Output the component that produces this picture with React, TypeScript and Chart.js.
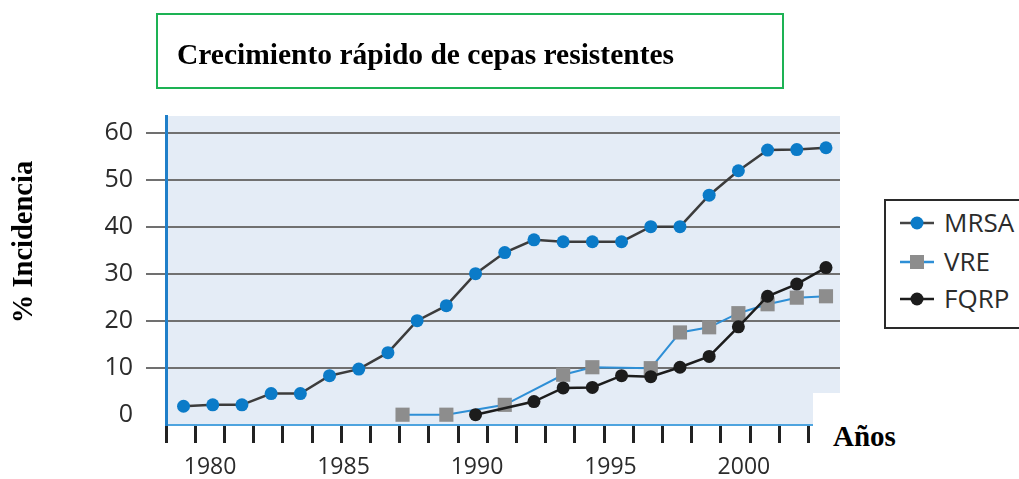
import React, { useEffect, useRef } from 'react';
import { Chart, registerables } from 'chart.js';

Chart.register(...registerables);

// ---- Data ----
const MRSA_YEARS = [1980, 1981, 1982, 1983, 1984, 1985, 1986, 1987, 1988, 1989, 1990, 1991, 1992, 1993, 1994, 1995, 1996, 1997, 1998, 1999, 2000, 2001, 2002];
const MRSA_VALUES = [1.8, 2.1, 2.1, 4.5, 4.5, 8.3, 9.7, 13.2, 20, 23.2, 30, 34.5, 37.2, 36.8, 36.8, 36.8, 40, 40, 46.7, 51.9, 56.3, 56.4, 56.8];

const VRE_YEARS = [1987.5, 1989, 1991, 1993, 1994, 1996, 1997, 1998, 1999, 2000, 2001, 2002];
const VRE_VALUES = [0, 0, 2.1, 8.5, 10.1, 9.9, 17.5, 18.6, 21.6, 23.5, 24.9, 25.2];

const FQRP_YEARS = [1990, 1992, 1993, 1994, 1995, 1996, 1997, 1998, 1999, 2000, 2001, 2002];
const FQRP_VALUES = [0, 2.8, 5.7, 5.8, 8.3, 8.1, 10.1, 12.4, 18.7, 25.2, 27.8, 31.3];

const Y_TICKS = [0, 10, 20, 30, 40, 50, 60];
const X_LABEL_YEARS = [1980, 1985, 1990, 1995, 2000];
const X_MARK_YEARS = [1979, 1980, 1981, 1982, 1983, 1984, 1985, 1986, 1987, 1988, 1989, 1990, 1991, 1992, 1993, 1994, 1995, 1996, 1997, 1998, 1999, 2000, 2001, 2002];

const TITLE = 'Crecimiento rápido de cepas resistentes';
const Y_TITLE = '% Incidencia';
const X_TITLE = 'Años';
const SERIES_NAMES = ['MRSA', 'VRE', 'FQRP'];

// ---- Styles ----
const SANS = "'Open Sans', 'Noto Sans', sans-serif";
const SERIF = "'Liberation Serif', 'Times New Roman', serif";
const MRSA_BLUE = '#0b7bc8';
const VRE_LINE = '#2e8fd6';
const VRE_GREY = '#8d8d8d';
const DARK = '#1c1c1c';
const LABEL = '#2b2b2b';

const plotBg = {
  id: 'plotBg',
  beforeDraw(chart: any) {
    const { ctx, chartArea } = chart;
    if (!chartArea) return;
    ctx.save();
    ctx.fillStyle = '#E4ECF6';
    ctx.fillRect(chartArea.left, chartArea.top, chartArea.right - chartArea.left, chartArea.bottom - chartArea.top);
    ctx.restore();
  },
};

function toPoints(xs: number[], ys: number[]) {
  return xs.map((x, i) => ({ x, y: ys[i] }));
}

function LegendIcon({ kind }: { kind: number }) {
  const lineColor = kind === 0 ? '#444' : kind === 1 ? VRE_LINE : DARK;
  return (
    <svg width={42} height={22} style={{ display: 'block' }}>
      <line x1={4} y1={11} x2={38} y2={11} stroke={lineColor} strokeWidth={2.5} />
      {kind === 0 && <circle cx={21} cy={11} r={6.5} fill={MRSA_BLUE} />}
      {kind === 1 && <rect x={14} y={4} width={14} height={14} fill={VRE_GREY} />}
      {kind === 2 && <circle cx={21} cy={11} r={6.5} fill={DARK} />}
    </svg>
  );
}

export default function App() {
  const canvasRef = useRef<HTMLCanvasElement | null>(null);

  useEffect(() => {
    const canvas = canvasRef.current;
    if (!canvas) return;
    const chart = new Chart(canvas, {
      type: 'line',
      data: {
        datasets: [
          {
            label: SERIES_NAMES[0],
            data: toPoints(MRSA_YEARS, MRSA_VALUES),
            borderColor: '#3c3c3c',
            borderWidth: 2.5,
            pointRadius: 6.5,
            pointBackgroundColor: MRSA_BLUE,
            pointBorderColor: MRSA_BLUE,
            pointBorderWidth: 0,
            tension: 0,
            order: 2,
          },
          {
            label: SERIES_NAMES[1],
            data: toPoints(VRE_YEARS, VRE_VALUES),
            borderColor: VRE_LINE,
            borderWidth: 2,
            pointStyle: 'rect',
            pointRadius: 10,
            pointBackgroundColor: VRE_GREY,
            pointBorderColor: VRE_GREY,
            pointBorderWidth: 0,
            tension: 0,
            order: 1,
          },
          {
            label: SERIES_NAMES[2],
            data: toPoints(FQRP_YEARS, FQRP_VALUES),
            borderColor: DARK,
            borderWidth: 2.5,
            pointRadius: 6.5,
            pointBackgroundColor: DARK,
            pointBorderColor: DARK,
            pointBorderWidth: 0,
            tension: 0,
            order: 0,
          },
        ],
      },
      options: {
        animation: false,
        responsive: false,
        maintainAspectRatio: false,
        layout: { padding: { top: 116, right: 179, bottom: 0, left: 0 } },
        plugins: { legend: { display: false }, tooltip: { enabled: false }, title: { display: false } },
        scales: {
          x: {
            type: 'linear',
            position: 'bottom',
            weight: 0,
            min: 1979.4,
            max: 2002.48,
            afterBuildTicks: (scale: any) => {
              scale.ticks = X_MARK_YEARS.map((y) => ({ value: y + 0.4 }));
            },
            afterFit: (scale: any) => {
              scale.height = 20;
            },
            ticks: { display: false },
            grid: {
              drawOnChartArea: false,
              drawTicks: true,
              tickLength: 18,
              color: '#222',
              lineWidth: 3,
            },
            border: { display: true, color: '#4ea4df', width: 2 },
          },
          xLabels: {
            type: 'linear',
            position: 'bottom',
            weight: 1,
            min: 1978.35,
            max: 2003.6,
            afterBuildTicks: (scale: any) => {
              scale.ticks = X_LABEL_YEARS.map((v) => ({ value: v }));
            },
            afterFit: (scale: any) => {
              scale.height = 34;
            },
            grid: { display: false, drawTicks: false, tickLength: 0 },
            border: { display: false },
            ticks: {
              autoSkip: false,
              maxRotation: 0,
              padding: 9,
              color: LABEL,
              font: { family: SANS, size: 23 },
              callback: (v: any) => String(v),
            },
          },
          y: {
            type: 'linear',
            min: -2.19,
            max: 63.55,
            afterBuildTicks: (scale: any) => {
              scale.ticks = Y_TICKS.map((v) => ({ value: v }));
            },
            afterFit: (scale: any) => {
              scale.width = 166;
            },
            ticks: {
              padding: 13,
              color: LABEL,
              font: { family: SANS, size: 25 },
              callback: (v: any) => String(v),
            },
            grid: {
              drawTicks: true,
              tickLength: 20,
              lineWidth: 2,
              color: (ctx: any) => (ctx.tick && ctx.tick.value === 0 ? 'rgba(0,0,0,0)' : '#707070'),
            },
            border: { display: true, color: '#1f7fc9', width: 3 },
          },
        },
      },
      plugins: [plotBg],
    } as any);
    return () => chart.destroy();
  }, []);

  return (
    <div style={{ position: 'fixed', left: 0, top: 0, width: 1019, height: 479, overflow: 'hidden', background: '#fff' }}>
      <canvas ref={canvasRef} width={1019} height={479} style={{ position: 'absolute', left: 0, top: 0, display: 'block' }} />

      {/* title box */}
      <div
        style={{
          position: 'absolute',
          left: 156,
          top: 13,
          width: 624,
          height: 72,
          border: '2px solid #1db254',
          boxSizing: 'content-box',
        }}
      />
      <div
        style={{
          position: 'absolute',
          left: 177,
          top: 40,
          fontFamily: SERIF,
          fontWeight: 'bold',
          fontSize: 29.5,
          lineHeight: '29.5px',
          whiteSpace: 'nowrap',
          color: '#000',
        }}
      >
        {TITLE}
      </div>

      {/* y title */}
      <div
        style={{
          position: 'absolute',
          left: 23 - 100,
          top: 242 - 14,
          width: 200,
          height: 28,
          textAlign: 'center',
          fontFamily: SERIF,
          fontWeight: 'bold',
          fontSize: 28.5,
          lineHeight: '28px',
          whiteSpace: 'nowrap',
          transform: 'rotate(-90deg)',
          transformOrigin: '50% 50%',
          color: '#000',
        }}
      >
        {Y_TITLE}
      </div>

      {/* white patch with x title */}
      <div style={{ position: 'absolute', left: 813, top: 393, width: 206, height: 86, background: '#fff' }} />
      <div
        style={{
          position: 'absolute',
          left: 833,
          top: 422,
          fontFamily: SERIF,
          fontWeight: 'bold',
          fontSize: 29,
          lineHeight: '29px',
          whiteSpace: 'nowrap',
          color: '#000',
        }}
      >
        {X_TITLE}
      </div>

      {/* legend */}
      <div
        style={{
          position: 'absolute',
          left: 884,
          top: 199,
          width: 170,
          height: 126,
          border: '2.5px solid #2a2a2a',
          background: '#fff',
        }}
      />
      {SERIES_NAMES.map((name, i) => {
        const cy = [223, 262, 299][i];
        return (
          <React.Fragment key={name}>
            <div style={{ position: 'absolute', left: 896, top: cy - 11 }}>
              <LegendIcon kind={i} />
            </div>
            <div
              style={{
                position: 'absolute',
                left: 944,
                top: cy - 14,
                fontFamily: SANS,
                fontSize: 26,
                lineHeight: '26px',
                color: LABEL,
                whiteSpace: 'nowrap',
              }}
            >
              {name}
            </div>
          </React.Fragment>
        );
      })}
    </div>
  );
}
